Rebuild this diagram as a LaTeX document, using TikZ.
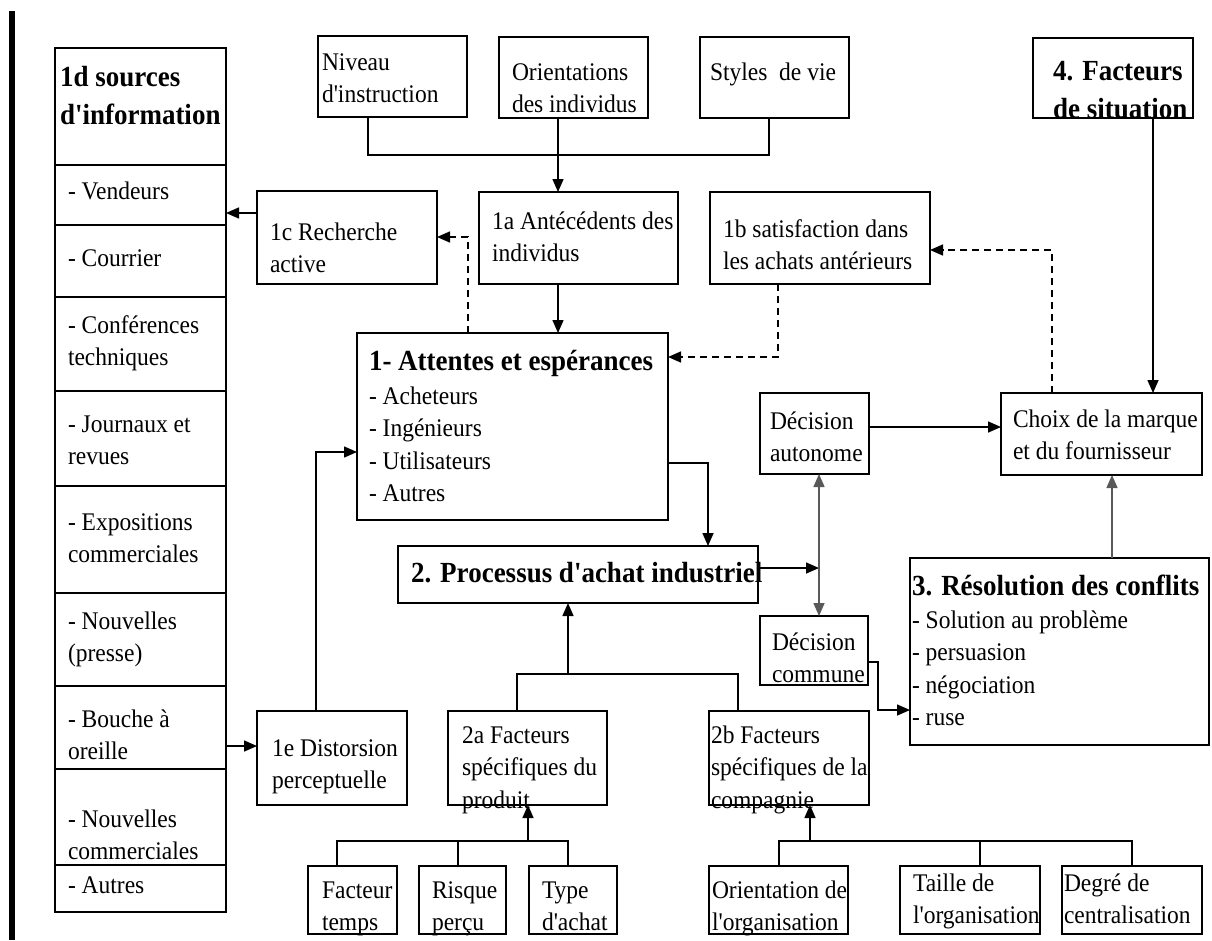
\documentclass[tikz,border=0pt]{standalone}
\usepackage{graphicx}
\usepackage{fontspec}
\setmainfont{Liberation Serif}
\usetikzlibrary{arrows.meta}

% text sizes (line spacing given before the slight vertical stretch)
\newcommand\nfont{\fontsize{23.5}{30.1}\selectfont}
\newcommand\bfont{\fontsize{27}{35.2}\selectfont\bfseries}
\newcommand\apos{\textquotesingle}

% a framed box given by its corners (x1,y1) (x2,y2), y counted downwards
\newcommand\boite[5]{%
  \node[box, minimum width={(#4-#2)*1pt}, minimum height={(#5-#3)*1pt}] (#1) at (#2,#3) {};}
% a block of left-aligned lines, placed by the baseline of its first line
\newcommand\ligne[4][lbl]{%
  \node[#1] (#2) at (#3) {\scalebox{1}[1.08]{\begin{tabular}[t]{@{}l@{}}#4\end{tabular}}};}

\begin{document}
\begin{tikzpicture}[x=1pt,y=-1pt,
  box/.style={draw, line width=1.5pt, inner sep=0pt, outer sep=0pt, anchor=north west},
  lbl/.style={anchor=base west, inner sep=0pt, outer sep=0pt, font=\nfont},
  blbl/.style={lbl, font=\bfont},
  link/.style={line width=1.5pt},
  arr/.style={link, -{Triangle[length=13pt,width=11pt]}},
  darr/.style={arr, dash pattern=on 7pt off 5pt},
  biarr/.style={link, {Triangle[length=13pt,width=11pt]}-{Triangle[length=13pt,width=11pt]}},
  soft/.style={draw=black!65}]

\useasboundingbox (0,0) rectangle (1212,940);

% margin rule
\draw[line width=6pt] (12,11) -- (12,940);

% ---- column of information sources
\boite{src}{55}{48}{226}{165}
\boite{vend}{55}{165}{226}{225}
\boite{cour}{55}{225}{226}{297}
\boite{conf}{55}{297}{226}{391}
\boite{jour}{55}{391}{226}{486}
\boite{expo}{55}{486}{226}{593}
\boite{nouvp}{55}{593}{226}{686}
\boite{bouche}{55}{686}{226}{769}
\boite{nouvc}{55}{769}{226}{865}
\boite{autres}{55}{865}{226}{912}

% ---- top row
\boite{niv}{318}{36}{467}{117}
\boite{ori}{499}{37}{648}{118}
\boite{sty}{700}{37}{849}{118}
\boite{sit}{1033}{38}{1193}{118}

% ---- second row
\boite{rech}{257}{191}{437}{284}
\boite{ante}{479}{192}{678}{284}
\boite{satis}{710}{192}{930}{284}

% ---- central boxes
\boite{att}{357}{333}{668}{520}
\boite{proc}{398}{546}{758}{603}
\boite{auto}{760}{393}{869}{474}
\boite{choix}{1001}{393}{1202}{475}
\boite{comm}{760}{616}{868}{685}
\boite{resol}{910}{558}{1209}{745}

% ---- lower rows
\boite{dist}{257}{711}{407}{805}
\boite{fa}{448}{711}{607}{805}
\boite{fb}{709}{711}{869}{805}
\boite{temps}{308}{866}{397}{934}
\boite{risque}{419}{866}{506}{934}
\boite{type}{529}{866}{617}{934}
\boite{orient}{709}{866}{848}{934}
\boite{taille}{900}{866}{1040}{934}
\boite{degre}{1062}{866}{1202}{934}

% ---- texts
\ligne[blbl]{tsrc}{60,86}{1d sources\\d\apos information}
\ligne{tvend}{68,199}{- Vendeurs}
\ligne{tcour}{68,266}{- Courrier}
\ligne{tconf}{68,333}{- Conférences\\techniques}
\ligne{tjour}{68,432}{- Journaux et\\revues}
\ligne{texpo}{68,530}{- Expositions\\commerciales}
\ligne{tnouvp}{68,629}{- Nouvelles\\(presse)}
\ligne{tbouche}{68,727}{- Bouche à\\oreille}
\ligne{tnouvc}{68,827}{- Nouvelles\\commerciales}
\ligne{tautres}{68,893}{- Autres}

\ligne{tniv}{322,70}{Niveau\\d\apos instruction}
\ligne{tori}{512,80}{Orientations\\des individus}
\ligne{tsty}{710,80}{Styles\ \ de vie}
\ligne[blbl]{tsit}{1053,80}{4. Facteurs\\de situation}

\ligne{trech}{270,240}{1c Recherche\\active}
\ligne{tante}{492,229}{1a Antécédents des\\individus}
\ligne{tsatis}{723,237}{1b satisfaction dans\\les achats antérieurs}

\ligne[blbl]{tatt}{369,370}{1- Attentes et espérances}
\ligne{tattl}{369,404}{- Acheteurs\\- Ingénieurs\\- Utilisateurs\\- Autres}
\ligne[blbl]{tproc}{411,582}{2. Processus d\apos achat industriel}
\ligne{tauto}{770,429}{Décision\\autonome}
\ligne{tchoix}{1013,427}{Choix de la marque\\et du fournisseur}
\ligne[blbl]{tresol}{912,595}{3. Résolution des conflits}
\ligne{tresoll}{912,628}{- Solution au problème\\- persuasion\\- négociation\\- ruse}
\ligne{tcomm}{772,650}{Décision\\commune}

\ligne{tdist}{272,756}{1e Distorsion\\perceptuelle}
\ligne{tfa}{462,743}{2a Facteurs\\spécifiques du\\produit}
\ligne{tfb}{711,743}{2b Facteurs\\spécifiques de la\\compagnie}
\ligne{ttemps}{322,898}{Facteur\\temps}
\ligne{trisque}{432,898}{Risque\\perçu}
\ligne{ttype}{542,898}{Type\\d\apos achat}
\ligne{torient}{712,898}{Orientation de\\l\apos organisation}
\ligne{ttaille}{913,891}{Taille de\\l\apos organisation}
\ligne{tdegre}{1064,891}{Degré de\\centralisation}

% ---- junction points
\coordinate (jtop) at (558,155);
\coordinate (jdec) at (819,568);
\coordinate (jcomm) at (878,710);
\coordinate (jmid) at (568,674);
\coordinate (jbl) at (528,841);
\coordinate (jbr) at (810,841);

% ---- connectors
\draw[link] (niv.south -| 368,0) |- (jtop) -| (sty.south -| 769,0);
\draw[arr] (ori.south -| jtop) -- (ante.north -| jtop);
\draw[arr] (ante.south -| jtop) -- (att.north -| jtop);
\draw[arr] (rech.west |- 0,213) -- (vend.east |- 0,213);
\draw[darr] (att.north -| 468,0) |- (rech.east |- 0,237);
\draw[darr] (satis.south -| 778,0) |- (att.east |- 0,357);
\draw[darr] (choix.north -| 1052,0) |- (satis.east |- 0,250);
\draw[arr] (sit.south -| 1153,0) -- (choix.north -| 1153,0);
\draw[arr] (dist.north -| 316,0) |- (att.west |- 0,452);
\draw[arr] (att.east |- 0,463) -| (proc.north -| 708,0);
\draw[arr] (proc.east |- jdec) -- (jdec);
\draw[biarr, soft] (auto.south -| jdec) -- (comm.north -| jdec);
\draw[arr] (auto.east |- 0,427) -- (choix.west |- 0,427);
\draw[arr, soft] (resol.north -| 1112,0) -- (choix.south -| 1112,0);
\draw[arr] (comm.east |- 0,662) -| (jcomm) -- (resol.west |- jcomm);
\draw[arr] (bouche.east |- 0,746) -- (dist.west |- 0,746);

\draw[link] (fa.north -| 517,0) |- (jmid) -| (fb.north -| 738,0);
\draw[arr] (jmid) -- (proc.south -| jmid);

\draw[link] (temps.north -| 337,0) |- (jbl) -| (type.north -| 568,0);
\draw[link] (risque.north -| 458,0) -- (jbl -| 458,0);
\draw[arr] (jbl) -- (fa.south -| jbl);

\draw[link] (orient.north -| 779,0) |- (jbr) -| (degre.north -| 1132,0);
\draw[link] (taille.north -| 980,0) -- (jbr -| 980,0);
\draw[arr] (jbr) -- (fb.south -| jbr);
\end{tikzpicture}
\end{document}
